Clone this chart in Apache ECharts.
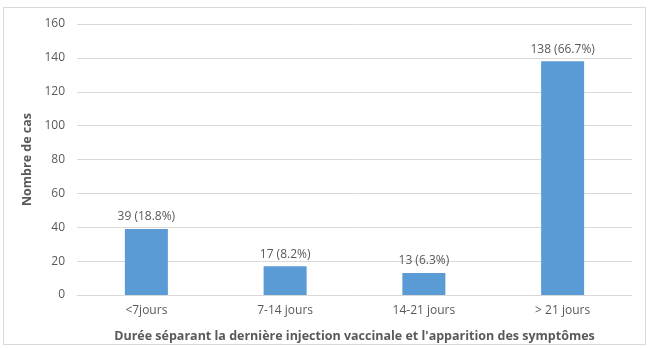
<!DOCTYPE html>
<html>
<head>
<meta charset="utf-8">
<script src="https://cdn.jsdelivr.net/npm/echarts@6/dist/echarts.min.js"></script>
<style>
  html, body { margin: 0; padding: 0; background: #fff; }
  #chart { width: 652px; height: 348px; }
  .frame { position: absolute; left: 3px; top: 7px; width: 643px; height: 338px; border: 1px solid #d9d9d9; box-sizing: border-box; }
</style>
</head>
<body>
<div class="frame"></div>
<div id="chart" style="position:absolute;left:0;top:0;"></div>
<script>
// categories, counts and percentage labels
const categories = ['<7jours', '7-14 jours', '14-21 jours', '> 21 jours'];
const counts = [39, 17, 13, 138];
const percents = ['18.8%', '8.2%', '6.3%', '66.7%'];

const textColor = '#595959';
const font = 'Open Sans';

const chart = echarts.init(document.getElementById('chart'));
chart.setOption({
  animation: false,
  grid: { left: 77, right: 20, top: 24, bottom: 52 },
  xAxis: {
    type: 'category',
    data: categories,
    name: "Durée séparant la dernière injection vaccinale et l'apparition des symptômes",
    nameLocation: 'middle',
    nameGap: 35,
    nameTextStyle: { color: textColor, fontFamily: font, fontWeight: 'bold', fontSize: 12.5 },
    axisLine: { lineStyle: { color: '#d9d9d9' } },
    axisTick: { show: false },
    axisLabel: { color: textColor, fontFamily: font, fontSize: 12, margin: 10 }
  },
  yAxis: {
    type: 'value',
    min: 0,
    max: 160,
    interval: 20,
    name: 'Nombre de cas',
    nameLocation: 'middle',
    nameGap: 43,
    nameTextStyle: { color: textColor, fontFamily: font, fontWeight: 'bold', fontSize: 12.5 },
    axisLine: { show: false },
    axisTick: { show: false },
    axisLabel: { color: textColor, fontFamily: font, fontSize: 12, margin: 12 },
    splitLine: { lineStyle: { color: '#d9d9d9' } }
  },
  series: [{
    type: 'bar',
    data: counts,
    barWidth: '31%',
    itemStyle: { color: '#5b9bd5' },
    label: {
      show: true,
      position: 'top',
      distance: 6,
      color: textColor,
      fontFamily: font,
      fontSize: 12,
      formatter: p => p.value + ' (' + percents[p.dataIndex] + ')'
    }
  }]
});
</script>
</body>
</html>
